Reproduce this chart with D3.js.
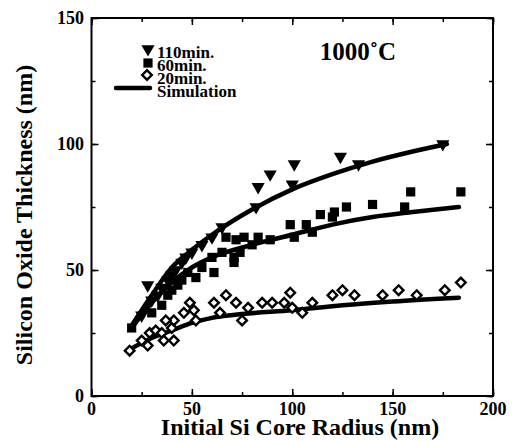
<!DOCTYPE html>
<html>
<head>
<meta charset="utf-8">
<script src="https://cdn.jsdelivr.net/npm/d3@7"></script>
<style>
  body { margin: 0; background: #fff; }
  text { font-family: "Liberation Serif", "Times New Roman", serif; font-weight: bold; fill: #000; }
</style>
</head>
<body>
<div id="chart"></div>
<script>
"use strict";

// measured points, [radius nm, thickness nm]
var tri110 = [[25,32],[28,44],[30,38],[33,40],[35,43],[38,46],[40,48],[42,50],[45,53],[47,55],
    [50,57],[55,60],[60,63],[65,67],[82,75],[83,83],[89,88],[100,84],[101,92],[124,95],[133,92],[175,100]];
var sq60 = [[20,27],[30,33],[35,36],[38,40],[40,42],[43,44],[45,46],[48,49],[52,47],[55,51],[60,55],
    [61,49],[65,57],[67,63],[71,53],[71,55],[72,62],[74,57],[76,63],[80,60],[83,63],[89,62],[99,68],
    [101,63],[107,68],[110,65],[114,72],[120,71],[121,73],[127,75],[140,76],[156,75],[159,81],[184,81]];
var dia20 = [[19,18],[25,22],[28,20],[29,25],[32,26],[35,25],[36,22],[40,27],[41,22],[41,30],[37,30],
    [46,33],[49,37],[51,34],[52,30],[61,37],[64,33],[67,40],[72,37],[75,30],[78,35],[85,37],[90,37],
    [96,37],[99,41],[100,35],[105,33],[110,37],[120,40],[125,42],[131,40],[145,40],[153,42],[162,40],
    [176,42],[184,45]];

// simulation curves
var sim110 = [[20,28],[30,40],[40,51],[50,58],[60,64],[80,74],[100,82],[120,88],[140,93],[160,97],[177,100]];
var sim60 = [[20,27],[30,37],[40,45],[50,51],[60,55],[80,60],[100,64],[120,68],[140,71],[160,73],[183,75]];
var sim20 = [[18,18],[30,23],[40,26],[50,29],[60,31],[75,32.5],[100,34],[125,36],[150,37.5],[183,39]];

var xTicks = [0, 50, 100, 150, 200];
var yTicks = [0, 50, 100, 150];
var legendLabels = ["110min.", "60min.", "20min.", "Simulation"];

var width = 523, height = 441;
var margin = {left: 91.5, right: 30, top: 18, bottom: 45};

var svg = d3.select("#chart").append("svg")
    .attr("width", width)
    .attr("height", height);

var x = d3.scaleLinear().domain([0, 200]).range([margin.left, width - margin.right]);
var y = d3.scaleLinear().domain([0, 150]).range([height - margin.bottom, margin.top]);

// ticks, inward on all four sides
function tickAxis(axis, ticks, len) {
    return axis.tickValues(ticks).tickSize(len).tickSizeOuter(0).tickFormat("");
}
var xMinor = d3.range(0, 201, 25), yMinor = d3.range(0, 151, 25);
[[d3.axisBottom(x), y(150), xMinor, 4], [d3.axisBottom(x), y(150), xTicks, 7],
 [d3.axisTop(x), y(0), xMinor, 4], [d3.axisTop(x), y(0), xTicks, 7]].forEach(function(a) {
    svg.append("g").attr("transform", "translate(0," + a[1] + ")")
        .call(tickAxis(a[0], a[2], a[3]))
        .call(function(g) { g.select(".domain").remove(); g.selectAll("line").attr("stroke-width", 1.5); });
});
[[d3.axisRight(y), x(0), yMinor, 4], [d3.axisRight(y), x(0), yTicks, 7],
 [d3.axisLeft(y), x(200), yMinor, 4], [d3.axisLeft(y), x(200), yTicks, 7]].forEach(function(a) {
    svg.append("g").attr("transform", "translate(" + a[1] + ",0)")
        .call(tickAxis(a[0], a[2], a[3]))
        .call(function(g) { g.select(".domain").remove(); g.selectAll("line").attr("stroke-width", 1.5); });
});

svg.append("rect")
    .attr("x", x(0)).attr("y", y(150))
    .attr("width", x(200) - x(0)).attr("height", y(0) - y(150))
    .attr("fill", "none").attr("stroke", "#000").attr("stroke-width", 2);

// tick labels
svg.selectAll(".xlab").data(xTicks).enter().append("text")
    .attr("x", function(d) { return x(d); })
    .attr("y", 415)
    .attr("text-anchor", "middle")
    .style("font-size", "18px")
    .text(function(d) { return d; });

svg.selectAll(".ylab").data(yTicks).enter().append("text")
    .attr("x", 84)
    .attr("y", function(d) { return y(d) + 6; })
    .attr("text-anchor", "end")
    .style("font-size", "18px")
    .text(function(d) { return d; });

svg.append("text")
    .attr("x", 300).attr("y", 435)
    .attr("text-anchor", "middle")
    .style("font-size", "24px")
    .text("Initial Si Core Radius (nm)");

svg.append("text")
    .attr("transform", "translate(32,215) rotate(-90)")
    .attr("text-anchor", "middle")
    .style("font-size", "24px")
    .text("Silicon Oxide Thickness (nm)");

svg.append("text")
    .attr("x", 358).attr("y", 60)
    .attr("text-anchor", "middle")
    .style("font-size", "25px")
    .text("1000\u02DAC");

// simulation lines
var line = d3.line()
    .x(function(d) { return x(d[0]); })
    .y(function(d) { return y(d[1]); })
    .curve(d3.curveMonotoneX);

[sim110, sim60, sim20].forEach(function(s) {
    svg.append("path")
        .attr("d", line(s))
        .attr("fill", "none")
        .attr("stroke", "#000")
        .attr("stroke-width", 4.5)
        .attr("stroke-linecap", "round");
});

// markers
var triSym = d3.symbol().type(d3.symbolTriangle).size(75);
var sqSym = d3.symbol().type(d3.symbolSquare).size(85);
var diaSym = d3.symbol().type(d3.symbolSquare).size(46);

function triangles(g, data) {
    g.selectAll(null).data(data).enter().append("path")
        .attr("d", triSym)
        .attr("transform", function(d) { return "translate(" + x(d[0]) + "," + y(d[1]) + ") rotate(180)"; })
        .attr("fill", "#000");
}
function squares(g, data) {
    g.selectAll(null).data(data).enter().append("path")
        .attr("d", sqSym)
        .attr("transform", function(d) { return "translate(" + x(d[0]) + "," + y(d[1]) + ")"; })
        .attr("fill", "#000");
}
function diamonds(g, data) {
    g.selectAll(null).data(data).enter().append("path")
        .attr("d", diaSym)
        .attr("transform", function(d) { return "translate(" + x(d[0]) + "," + y(d[1]) + ") rotate(45)"; })
        .attr("fill", "#fff")
        .attr("stroke", "#000")
        .attr("stroke-width", 2.4);
}

var marks = svg.append("g");
diamonds(marks.append("g"), dia20);
squares(marks.append("g"), sq60);
triangles(marks.append("g"), tri110);

// legend (lines overlap slightly, as in the original)
var lg = svg.append("g");
triangles(lg, [[x.invert(148), y.invert(49)]]);
squares(lg, [[x.invert(148), y.invert(63)]]);
diamonds(lg, [[x.invert(147), y.invert(75)]]);
lg.append("line")
    .attr("x1", 116).attr("x2", 150).attr("y1", 88).attr("y2", 88)
    .attr("stroke", "#000").attr("stroke-width", 4.5).attr("stroke-linecap", "round");
lg.selectAll("text").data(legendLabels).enter().append("text")
    .attr("x", 157)
    .attr("y", function(d, i) { return [58, 71, 84, 97][i]; })
    .style("font-size", "17px")
    .text(function(d) { return d; });
</script>
</body>
</html>
